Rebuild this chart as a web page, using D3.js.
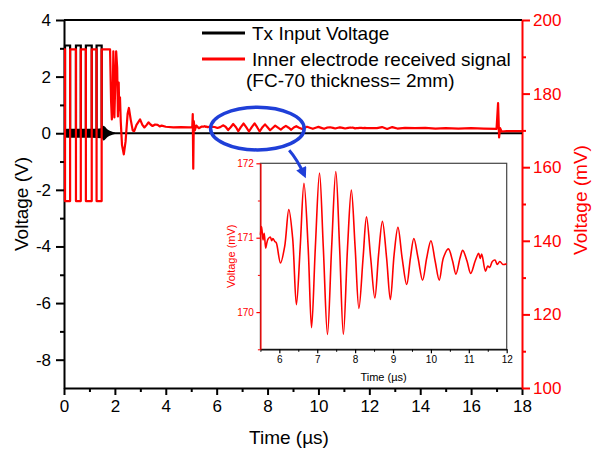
<!DOCTYPE html>
<html>
<head>
<meta charset="utf-8">
<script src="https://cdn.jsdelivr.net/npm/d3@7/dist/d3.min.js"></script>
<style>
  body { margin: 0; background: #fff; }
  svg { font-family: "Liberation Sans", Arial, sans-serif; }
  .axis path, .axis line { stroke-width: 2; }
</style>
</head>
<body>
<div id="chart"></div>
<script>
// ---------- data ----------
// Tx input voltage (V, left axis)
var txTime = [0, 0.04, 0.04, 0.24, 0.24, 0.47, 0.47, 0.66, 0.66, 0.86, 0.86, 1.09, 1.09, 1.28, 1.28, 1.48, 1.48, 18];
var txVolt = [0, 0, 3.1, 3.1, 0, 0, 3.1, 3.1, 0, 0, 3.1, 3.1, 0, 0, 3.1, 3.1, 0, 0];
// Tx ringing band around 0 V
var ringBandTime = [0, 0.3, 0.7, 1.1, 1.48, 1.55, 1.7, 1.85, 2.0];
var ringBandHi = [0.15, 0.16, 0.16, 0.16, 0.18, 0.26, 0.14, 0.07, 0.03];
var ringBandLo = [-0.15, -0.16, -0.16, -0.16, -0.18, -0.26, -0.14, -0.07, -0.03];

// received signal (mV, right axis) - head part
var rxHeadTime = [0, 0.04, 0.04, 0.24, 0.24, 0.47, 0.47, 0.66, 0.66, 0.86, 0.86, 1.09, 1.09, 1.28, 1.28, 1.48, 1.48,
  1.81, 1.85, 1.88, 1.91, 1.94, 1.96, 1.98, 2.02, 2.05, 2.09, 2.12, 2.15, 2.17, 2.2, 2.23, 2.28, 2.35, 2.42, 2.5, 2.55,
  2.62, 2.7, 2.76, 2.85, 2.99, 3.08, 3.16, 3.25, 3.32, 3.4, 3.48, 3.58, 3.68, 3.76, 3.84, 4.0, 4.3, 4.6, 4.9,
  5.04, 5.06, 5.08, 5.1, 5.14, 5.2, 5.3, 5.4];
var rxHeadMv = [192, 192, 150.8, 150.8, 192, 192, 150.8, 150.8, 192, 192, 150.8, 150.8, 192, 192, 150.8, 150.8, 192,
  192, 178, 173, 177, 191.5, 182, 173.5, 184, 191.5, 187, 173.8, 183, 175.5, 179, 172.5, 166, 163.5, 167, 174.5, 176.1,
  173, 170, 169.8, 171.5, 173.0, 171.5, 170.8, 171.5, 172.2, 171.6, 171.2, 171.6, 171.5, 171.1, 171.3, 171.0, 170.8, 170.9, 170.8,
  170.8, 174.4, 159.6, 172.5, 170.0, 171.3, 170.6, 171.0];

// ringing wave, 5.5 - 12 us (shown in inset)
var waveTime = [5.5, 5.53, 5.57, 5.6, 5.64, 5.67, 5.7, 5.76, 5.8, 5.83, 5.88, 5.92, 6.03, 6.14, 6.25, 6.35, 6.45, 6.55, 6.65,
  6.76, 6.85, 6.95, 7.06, 7.16, 7.27, 7.38, 7.49, 7.59, 7.69, 7.8, 7.9, 8.0, 8.1, 8.21, 8.3, 8.41, 8.52, 8.62, 8.72,
  8.83, 8.93, 9.03, 9.13, 9.24, 9.36, 9.46, 9.55, 9.66, 9.78, 9.89, 10.0, 10.11, 10.22, 10.33, 10.46, 10.57, 10.66,
  10.77, 10.84, 10.95, 11.05, 11.17, 11.26, 11.3, 11.34, 11.44, 11.5, 11.55, 11.62, 11.69, 11.75, 11.82, 11.9, 12.0];
var waveMv = [171.04, 171.15, 170.97, 171.06, 170.86, 170.93, 170.98, 171.01, 170.96, 170.99, 170.95, 170.93, 170.66, 170.88, 171.38, 171.0, 170.10, 170.87, 171.73,
  170.87, 169.79, 170.87, 171.87, 170.87, 169.70, 170.87, 171.89, 170.87, 169.70, 170.87, 171.64, 170.87, 170.05, 170.73, 171.28, 170.73, 170.19, 170.78, 171.22,
  170.73, 170.17, 170.78, 171.14, 170.73, 170.37, 170.73, 170.99, 170.73, 170.43, 170.73, 170.96, 170.69, 170.43, 170.73, 170.85, 170.69, 170.51,
  170.73, 170.83, 170.69, 170.52, 170.69, 170.79, 170.72, 170.78, 170.55, 170.62, 170.6, 170.68, 170.70, 170.64, 170.68, 170.64, 170.65];

// tail after 12 us
var rxTailTime = [12.3, 12.5, 12.7, 12.9, 13.1, 13.4, 13.8, 14.2, 14.6, 15.0, 15.5, 16.0, 16.5, 17.0, 17.06, 17.1, 17.14, 17.2, 17.4, 18];
var rxTailMv = [170.6, 170.9, 170.4, 170.9, 170.5, 170.7, 170.6, 170.7, 170.5, 170.6, 170.5, 170.6, 170.5, 170.4, 177.4, 168.1, 170.6, 169.7, 169.8, 169.8];

// ticks
var timeTicks = [0, 2, 4, 6, 8, 10, 12, 14, 16, 18];
var timeMinor = [1, 3, 5, 7, 9, 11, 13, 15, 17];
var voltTicks = [-8, -6, -4, -2, 0, 2, 4];
var voltMinor = [-7, -5, -3, -1, 1, 3];
var mvTicks = [100, 120, 140, 160, 180, 200];
var mvMinor = [110, 130, 150, 170, 190];
var insetTimeTicks = [6, 7, 8, 9, 10, 11, 12];
var insetTimeMinor = [5.5, 6.5, 7.5, 8.5, 9.5, 10.5, 11.5];
var insetMvTicks = [170, 171, 172];
var insetMvMinor = [169.5, 170.5, 171.5];

var legendLabels = ["Tx Input Voltage", "Inner electrode received signal", "(FC-70 thickness= 2mm)"];

// annotation (in data units): ellipse around ringing, arrow to inset
var ellipseCenter = [7.6, 170.5], ellipseRadius = [1.84, 5.8];
var arrowFrom = [8.85, 164.6], arrowTo = [9.45, 157.8];

// ---------- chart ----------
var W = 593, H = 452;
var margin = {top: 20, right: 71, bottom: 64, left: 64};
var width = W - margin.left - margin.right,
    height = H - margin.top - margin.bottom;

var svg = d3.select("#chart").append("svg")
    .attr("width", W)
    .attr("height", H);

var x = d3.scaleLinear().domain([0, 18]).range([margin.left, margin.left + width]);
var yL = d3.scaleLinear().domain([-9, 4]).range([margin.top + height, margin.top]);
var yR = d3.scaleLinear().domain([100, 200]).range([margin.top + height, margin.top]);

var fmt = function(d) { return String(d); };

// top border
svg.append("line")
    .attr("x1", x(0)).attr("x2", x(18))
    .attr("y1", yL(4)).attr("y2", yL(4))
    .attr("stroke", "#000").attr("stroke-width", 2);

// minor ticks
svg.append("g").attr("class", "axis")
    .attr("transform", "translate(0," + (margin.top + height) + ")")
    .call(d3.axisBottom(x).tickValues(timeMinor).tickSize(4).tickFormat(""))
    .call(function(g) { g.select(".domain").remove(); });
svg.append("g").attr("class", "axis")
    .attr("transform", "translate(" + margin.left + ",0)")
    .call(d3.axisLeft(yL).tickValues(voltMinor).tickSize(4).tickFormat(""))
    .call(function(g) { g.select(".domain").remove(); });
svg.append("g").attr("class", "axis")
    .attr("transform", "translate(" + (margin.left + width) + ",0)")
    .call(d3.axisRight(yR).tickValues(mvMinor).tickSize(4).tickFormat(""))
    .call(function(g) { g.select(".domain").remove(); g.selectAll("line").attr("stroke", "#ff0000"); });

// main axes
svg.append("g").attr("class", "axis")
    .attr("transform", "translate(0," + (margin.top + height) + ")")
    .call(d3.axisBottom(x).tickValues(timeTicks).tickSize(7).tickSizeOuter(0).tickPadding(5).tickFormat(fmt))
    .call(function(g) { g.selectAll("text").attr("font-size", 17).attr("fill", "#000"); });

svg.append("g").attr("class", "axis")
    .attr("transform", "translate(" + margin.left + ",0)")
    .call(d3.axisLeft(yL).tickValues(voltTicks).tickSize(8).tickSizeOuter(0).tickPadding(5).tickFormat(fmt))
    .call(function(g) { g.selectAll("text").attr("font-size", 17).attr("fill", "#000"); });

svg.append("g").attr("class", "axis")
    .attr("transform", "translate(" + (margin.left + width) + ",0)")
    .call(d3.axisRight(yR).tickValues(mvTicks).tickSize(8).tickSizeOuter(0).tickPadding(3).tickFormat(fmt))
    .call(function(g) {
      g.select(".domain").attr("stroke", "#ff0000");
      g.selectAll("line").attr("stroke", "#ff0000");
      g.selectAll("text").attr("font-size", 17).attr("fill", "#ff0000");
    });

// axis titles
svg.append("text")
    .attr("transform", "translate(21," + (margin.top + height / 2) + ") rotate(-90)")
    .attr("text-anchor", "middle").attr("dy", "0.35em")
    .attr("font-size", 19).text("Voltage (V)");
svg.append("text")
    .attr("x", margin.left + width / 2 - 4).attr("y", 444)
    .attr("text-anchor", "middle")
    .attr("font-size", 19).text("Time (\u00b5s)");
svg.append("text")
    .attr("transform", "translate(580," + (margin.top + height / 2 - 4) + ") rotate(-90)")
    .attr("text-anchor", "middle").attr("dy", "0.35em")
    .attr("fill", "#ff0000")
    .attr("font-size", 19).text("Voltage (mV)");

// Tx ringing band
var band = ringBandTime.map(function(t, i) { return {t: t, hi: ringBandHi[i], lo: ringBandLo[i]}; });
svg.append("path")
    .datum(band)
    .attr("fill", "#000")
    .attr("d", d3.area().curve(d3.curveMonotoneX).x(function(d) { return x(d.t); })
        .y0(function(d) { return yL(d.lo); }).y1(function(d) { return yL(d.hi); }));

// Tx line
var tx = txTime.map(function(t, i) { return {t: t, v: txVolt[i]}; });
svg.append("path")
    .datum(tx)
    .attr("fill", "none").attr("stroke", "#000").attr("stroke-width", 2.2)
    .attr("d", d3.line().x(function(d) { return x(d.t); }).y(function(d) { return yL(d.v); }));

// received signal
var rx = [];
rxHeadTime.forEach(function(t, i) { rx.push({t: t, v: rxHeadMv[i]}); });
waveTime.forEach(function(t, i) { rx.push({t: t, v: waveMv[i]}); });
rxTailTime.forEach(function(t, i) { rx.push({t: t, v: rxTailMv[i]}); });

svg.append("path")
    .datum(rx)
    .attr("fill", "none").attr("stroke", "#ff0000").attr("stroke-width", 2.2)
    .attr("stroke-linejoin", "round")
    .attr("d", d3.line().x(function(d) { return x(d.t); }).y(function(d) { return yR(d.v); }));

// legend
var lg = svg.append("g");
lg.append("line").attr("x1", 202).attr("x2", 245).attr("y1", 33).attr("y2", 33)
    .attr("stroke", "#000").attr("stroke-width", 3);
lg.append("line").attr("x1", 202).attr("x2", 245).attr("y1", 59).attr("y2", 59)
    .attr("stroke", "#ff0000").attr("stroke-width", 3);
lg.append("text").attr("x", 252).attr("y", 40).attr("font-size", 19).text(legendLabels[0]);
lg.append("text").attr("x", 252).attr("y", 66).attr("font-size", 19).text(legendLabels[1]);
lg.append("text").attr("x", 246).attr("y", 87).attr("font-size", 19).text(legendLabels[2]);

// ---------- inset ----------
var inset = {left: 260.4, right: 506.7, top: 163.3, bottom: 349.3};
var xi = d3.scaleLinear().domain([5.5, 12]).range([inset.left, inset.right]);
var yi = d3.scaleLinear().domain([169.5, 172]).range([inset.bottom, inset.top]);

var ig = svg.append("g");
ig.append("rect")
    .attr("x", inset.left).attr("y", inset.top)
    .attr("width", inset.right - inset.left).attr("height", inset.bottom - inset.top)
    .attr("fill", "#fff").attr("stroke", "#444").attr("stroke-width", 1.2);

ig.append("g")
    .attr("transform", "translate(0," + inset.bottom + ")")
    .call(d3.axisBottom(xi).tickValues(insetTimeMinor).tickSize(2.5).tickFormat(""))
    .call(function(g) { g.select(".domain").remove(); });
ig.append("g")
    .attr("transform", "translate(" + inset.left + ",0)")
    .call(d3.axisLeft(yi).tickValues(insetMvMinor).tickSize(2.5).tickFormat(""))
    .call(function(g) { g.select(".domain").remove(); g.selectAll("line").attr("stroke", "#ff0000"); });

ig.append("g")
    .attr("transform", "translate(0," + inset.bottom + ")")
    .call(d3.axisBottom(xi).tickValues(insetTimeTicks).tickSize(4).tickSizeOuter(0).tickPadding(3).tickFormat(fmt))
    .call(function(g) {
      g.select(".domain").attr("stroke-width", 1.3);
      g.selectAll("line").attr("stroke-width", 1.2);
      g.selectAll("text").attr("font-size", 10).attr("fill", "#000");
    });
ig.append("g")
    .attr("transform", "translate(" + inset.left + ",0)")
    .call(d3.axisLeft(yi).tickValues(insetMvTicks).tickSize(4).tickSizeOuter(0).tickPadding(2.5).tickFormat(fmt))
    .call(function(g) {
      g.select(".domain").attr("stroke", "#ff0000").attr("stroke-width", 1.3);
      g.selectAll("line").attr("stroke", "#ff0000").attr("stroke-width", 1.2);
      g.selectAll("text").attr("font-size", 10).attr("fill", "#ff0000");
    });

ig.append("text")
    .attr("x", (inset.left + inset.right) / 2).attr("y", 381)
    .attr("text-anchor", "middle").attr("font-size", 11)
    .text("Time (\u00b5s)");
ig.append("text")
    .attr("transform", "translate(231," + (inset.top + inset.bottom) / 2 + ") rotate(-90)")
    .attr("text-anchor", "middle").attr("dy", "0.35em")
    .attr("font-size", 11).attr("fill", "#ff0000")
    .text("Voltage (mV)");

var wave = waveTime.map(function(t, i) { return {t: t, v: waveMv[i]}; });
ig.append("path")
    .datum(wave)
    .attr("fill", "none").attr("stroke", "#ff0000").attr("stroke-width", 1.6)
    .attr("d", d3.line().curve(d3.curveCatmullRom.alpha(0.5))
        .x(function(d) { return xi(d.t); }).y(function(d) { return yi(d.v); }));

// ---------- annotation ----------
var blue = "#1f3fd8";
svg.append("defs").append("marker")
    .attr("id", "arrow")
    .attr("viewBox", "0 0 10 10")
    .attr("refX", 7).attr("refY", 5)
    .attr("markerUnits", "userSpaceOnUse")
    .attr("markerWidth", 13).attr("markerHeight", 11)
    .attr("orient", "auto")
    .append("path").attr("d", "M0,0 L10,5 L0,10 Z").attr("fill", blue);

svg.append("ellipse")
    .attr("cx", x(ellipseCenter[0])).attr("cy", yR(ellipseCenter[1]))
    .attr("rx", x(ellipseRadius[0]) - x(0)).attr("ry", yR(0) - yR(ellipseRadius[1]))
    .attr("fill", "none").attr("stroke", blue).attr("stroke-width", 3.5);

var ax0 = x(arrowFrom[0]), ay0 = yR(arrowFrom[1]), ax1 = x(arrowTo[0]), ay1 = yR(arrowTo[1]);
svg.append("path")
    .attr("d", "M" + ax0 + "," + ay0 + " Q" + (ax0 + 8) + "," + (ay0 + 9) + " " + ax1 + "," + ay1)
    .attr("fill", "none").attr("stroke", blue).attr("stroke-width", 3)
    .attr("marker-end", "url(#arrow)");
</script>
</body>
</html>
